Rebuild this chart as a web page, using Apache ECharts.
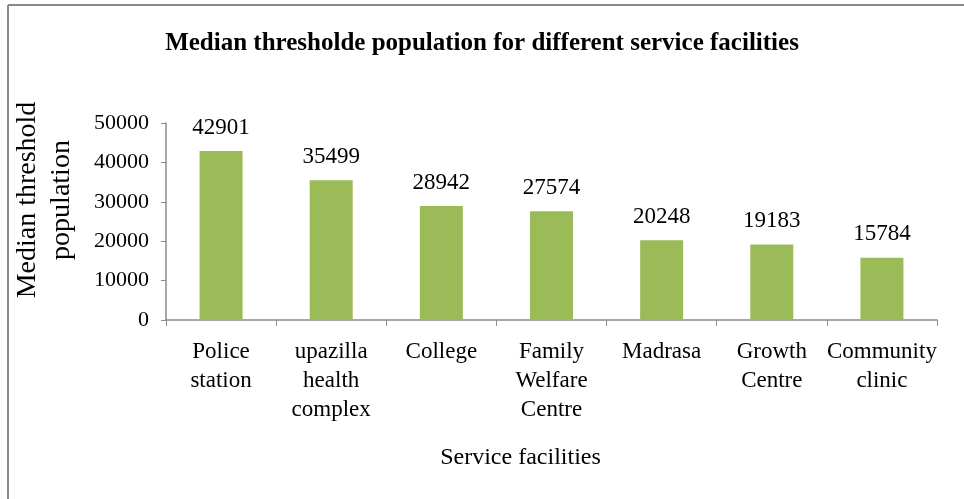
<!DOCTYPE html>
<html><head><meta charset="utf-8">
<script src="https://cdn.jsdelivr.net/npm/echarts@6/dist/echarts.min.js"></script>
<style>html,body{margin:0;padding:0;background:#fff}#c{width:964px;height:499px}</style>
</head><body><div id="c"></div>
<script>
const categories = ['Police\nstation','upazilla\nhealth\ncomplex','College','Family\nWelfare\nCentre','Madrasa','Growth\nCentre','Community\nclinic'];
const values = [42901, 35499, 28942, 27574, 20248, 19183, 15784];
const yTicks = [0, 10000, 20000, 30000, 40000, 50000];

const serif = '"Liberation Serif", "DejaVu Serif", serif';
const chart = echarts.init(document.getElementById('c'));
chart.setOption({
  animation: false,
  backgroundColor: '#fff',
  title: {
    text: 'Median thresholde population for different service facilities',
    left: 'center', top: 26,
    textStyle: { fontFamily: serif, fontWeight: 'bold', fontSize: 25, color: '#000' }
  },
  graphic: [
    { type: 'line', shape: { x1: 8, y1: 5, x2: 964, y2: 5 }, style: { stroke: '#8a8a8a', lineWidth: 2 } },
    { type: 'line', shape: { x1: 8, y1: 5, x2: 8, y2: 499 }, style: { stroke: '#8a8a8a', lineWidth: 2 } }
  ],
  grid: { left: 166, right: 27, top: 123, bottom: 179 },
  xAxis: {
    type: 'category', data: categories,
    name: 'Service facilities', nameLocation: 'middle', nameGap: 126,
    nameTextStyle: { fontFamily: serif, fontSize: 24, color: '#000', padding: [0, 62, 0, 0] },
    axisLine: { lineStyle: { color: '#8c8c8c', width: 1.5 } },
    axisTick: { show: true, length: 6, lineStyle: { color: '#8c8c8c' } },
    axisLabel: { fontFamily: serif, fontSize: 23, color: '#000', lineHeight: 29, margin: 17, interval: 0 }
  },
  yAxis: {
    type: 'value', min: 0, max: 50000, interval: 10000,
    name: 'Median threshold\npopulation', nameLocation: 'middle', nameGap: 87,
    nameTextStyle: { fontFamily: serif, fontSize: 28, color: '#000', lineHeight: 34, padding: [0, 0, 0, 43] },
    axisLine: { show: true, lineStyle: { color: '#8c8c8c', width: 1.5 } },
    axisTick: { show: true, length: 5, lineStyle: { color: '#8c8c8c' } },
    splitLine: { show: false },
    axisLabel: { fontFamily: serif, fontSize: 22, color: '#000', margin: 17,
      formatter: v => yTicks.includes(v) ? String(v) : '' }
  },
  series: [{
    type: 'bar', data: values, barWidth: 43,
    itemStyle: { color: '#9bbb59' },
    label: { show: true, position: 'top', distance: 12, fontFamily: serif, fontSize: 23, color: '#000' }
  }]
});
</script></body></html>
